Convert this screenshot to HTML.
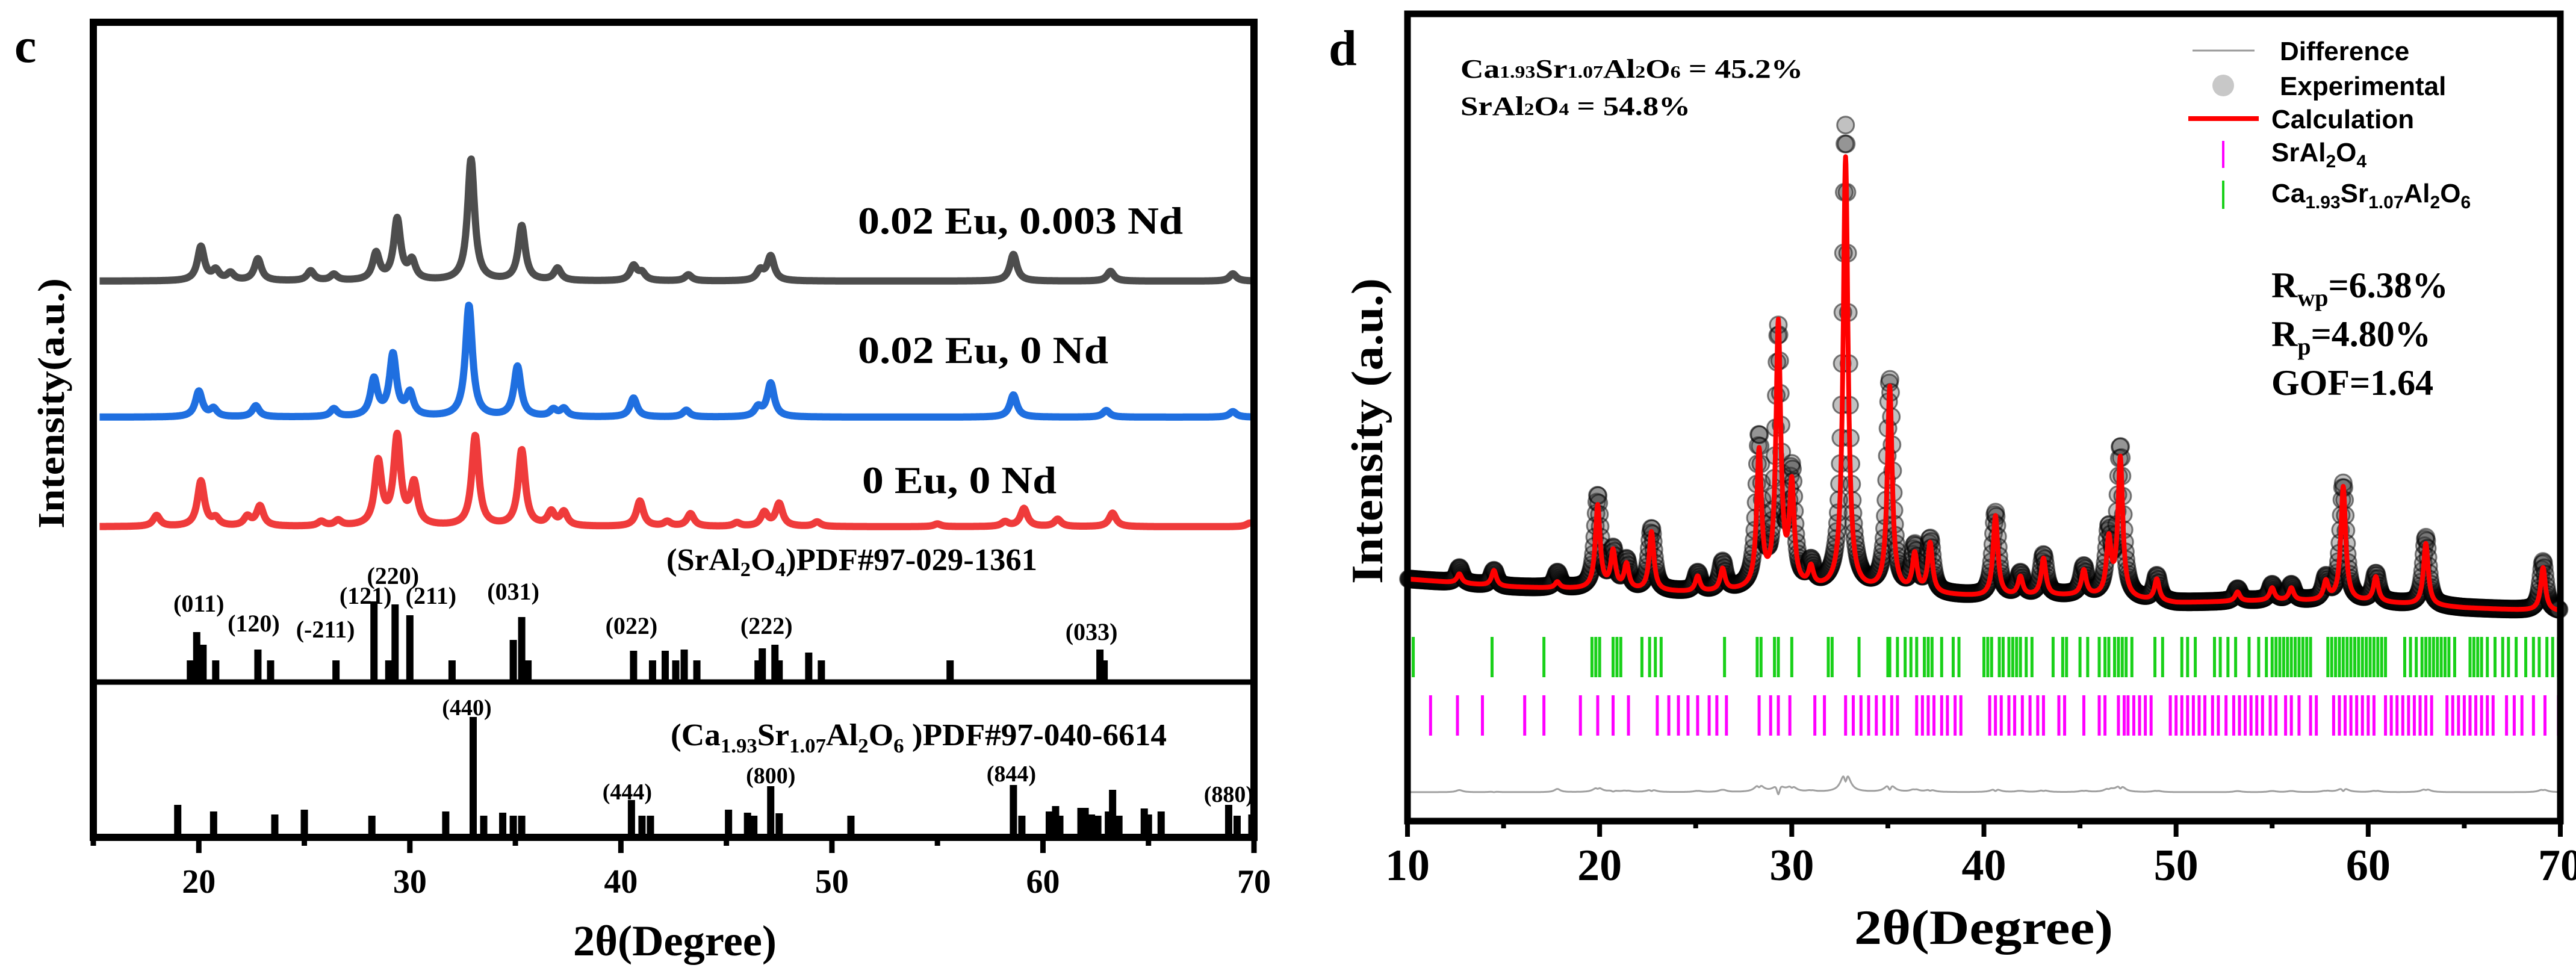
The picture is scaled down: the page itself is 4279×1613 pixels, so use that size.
<!DOCTYPE html>
<html><head><meta charset="utf-8"><style>
html,body{margin:0;padding:0;background:#fff;}
svg{display:block;}
.serif{font-family:"Liberation Serif",serif;font-weight:bold;}
.sans{font-family:"Liberation Sans",sans-serif;font-weight:bold;}
</style></head><body>
<svg id="fig" xmlns="http://www.w3.org/2000/svg" width="4279" height="1613" viewBox="0 0 4279 1613">
<rect width="4279" height="1613" fill="#fff"/>
<g id="left"></g>
<g id="right"></g>
</svg>
<script>
// ===== Panel c data =====
const blackPeaks = [20.1,20.8,21.5,22.8,25.3,26.4,28.4,29.4,30.1,32.9,35.3,37.0,40.6,41.0,43.2,46.6,47.1,58.6,63.2,69.0];
const blackHeights = [0.28,0.08,0.06,0.18,0.08,0.05,0.22,0.5,0.15,1.0,0.45,0.1,0.12,0.06,0.05,0.08,0.2,0.22,0.08,0.06];
const bluePeaks = [20.0,20.7,22.7,26.4,28.3,29.2,30.0,32.8,35.1,36.8,37.3,40.6,43.1,46.5,47.1,58.6,63.0,69.0];
const blueHeights = [0.23,0.07,0.1,0.07,0.33,0.55,0.2,1.0,0.45,0.06,0.07,0.17,0.06,0.08,0.3,0.2,0.06,0.05];
const redPeaks = [18.0,20.1,20.8,22.3,22.9,25.8,26.6,28.5,29.4,30.2,33.1,35.3,36.7,37.3,40.9,42.2,43.3,45.5,46.8,47.5,49.3,55.0,58.2,59.1,60.7,63.3,69.8];
const redHeights = [0.12,0.5,0.08,0.1,0.22,0.05,0.06,0.7,0.97,0.45,1.0,0.84,0.15,0.15,0.28,0.05,0.14,0.04,0.15,0.25,0.05,0.03,0.05,0.2,0.08,0.15,0.04];
const srRefPos = [19.6,19.9,20.2,20.8,22.8,23.4,26.5,28.3,29.0,29.3,30.0,32.0,34.9,35.3,35.6,40.6,41.5,42.1,42.6,43.0,43.6,46.5,46.7,47.3,47.5,48.9,49.5,55.6,62.7,62.9,70.0];
const srRefInt = [36,83,62,36,54,36,36,134,36,129,111,36,70,108,36,52,36,52,36,54,36,36,56,62,36,49,36,36,54,36,36];
const srHkl = ["(011)","(120)","(-211)","(121)","(220)","(211)","(031)","(022)","(222)","(033)"];
const srHklPos = [20.0,22.6,26.0,27.9,29.2,31.0,34.9,40.5,46.9,62.3];
const srHklLift = [131,98,88,144,177,144,151,94,94,84];
const caRefPos = [19.0,20.7,23.6,25.0,28.2,31.7,33.0,33.5,34.4,34.9,35.3,40.5,41.0,41.4,45.1,46.0,46.3,47.1,47.5,50.9,58.6,59.0,60.3,60.6,60.8,61.8,62.0,62.3,62.6,63.1,63.3,63.6,64.8,65.0,65.6,68.8,69.2,69.9];
const caRefInt = [54,43,38,46,36,43,200,36,41,36,36,62,36,36,46,41,36,85,40,36,87,36,43,52,36,49,49,38,36,43,79,36,48,38,43,54,36,38];
const caHkl = ["(440)","(444)","(800)","(844)","(880)"];
const caHklPos = [32.7,40.3,47.1,58.5,68.8];
const caHklLift = [216,76,103,106,72];
const leftTicks = [20,30,40,50,60,70];

// ===== Panel d data =====
const bgDeg = [10,15,20,25,30,35,40,45,50,55,60,65,70];
const bgLevel = [962,975,980,985,980,985,992,990,1002,998,1000,1010,1016];
const fitPeaks = [12.7,14.5,17.8,19.9,20.7,21.4,22.7,25.1,26.4,28.3,29.3,30.0,31.0,32.8,35.1,36.4,37.2,40.6,41.9,43.1,45.2,46.5,47.1,49.0,53.2,55.0,56.0,57.8,58.7,60.4,63.0,69.1];
const calcHeights = [15,25,10,135,60,40,95,25,35,220,425,160,30,700,330,60,80,130,30,60,40,90,225,35,15,20,20,30,185,40,100,70];
const expHeights = [25,25,25,150,60,45,100,30,45,240,410,175,35,750,340,70,85,135,35,65,45,100,240,40,20,25,25,35,190,45,110,80];
const greenTicks = [10.3,14.4,17.1,19.6,19.8,20.0,20.7,20.9,21.1,22.2,22.6,22.9,23.2,26.5,28.2,28.4,29.1,29.3,30.0,31.9,32.1,33.5,35.0,35.1,35.5,35.9,36.2,36.5,36.9,37.1,37.3,37.8,38.4,38.7,40.0,40.2,40.4,40.8,41.0,41.3,41.5,41.7,41.9,42.2,42.5,43.6,44.1,44.3,45.0,45.4,46.0,46.3,46.5,46.8,47.0,47.2,47.4,47.7,48.9,49.3,50.3,50.6,51.0,52.0,52.3,52.7,53.1,53.8,54.3,54.7,55.0,55.2,55.4,55.6,55.8,56.0,56.2,56.4,56.6,56.8,57.0,57.9,58.1,58.3,58.5,58.7,58.9,59.1,59.3,59.5,59.7,59.9,60.1,60.3,60.5,60.7,60.9,61.9,62.2,62.5,62.8,63.0,63.2,63.4,63.6,63.8,64.0,64.2,64.5,65.3,65.5,65.7,65.9,66.2,66.6,67.0,67.3,67.7,68.2,68.6,68.9,69.3,69.6,69.9];
const magentaTicks = [11.2,12.6,13.9,16.1,17.1,19.0,19.9,20.7,21.5,23.0,23.6,24.1,24.6,25.1,25.7,26.1,26.6,28.3,28.9,29.3,29.9,31.2,31.7,32.8,33.2,33.6,34.0,34.4,34.8,35.2,35.5,36.5,36.8,37.1,37.4,37.8,38.1,38.5,38.8,40.3,40.6,40.9,41.3,41.6,42.0,42.4,42.8,43.1,43.9,44.2,45.2,46.0,46.3,47.0,47.3,47.5,47.8,48.1,48.4,48.7,49.7,50.0,50.3,50.6,50.9,51.2,51.5,51.9,52.2,52.6,53.0,53.3,53.6,53.9,54.2,54.5,54.9,55.2,55.7,56.0,56.4,57.0,57.3,58.2,58.5,58.8,59.1,59.4,59.7,60.0,60.3,60.9,61.2,61.5,61.8,62.1,62.4,62.7,63.0,63.3,64.1,64.4,64.7,65.0,65.3,65.6,65.9,66.2,66.5,67.2,67.6,68.0,68.6,69.2,69.9];
const rightTicks = [10,20,30,40,50,60,70];

const NS = "http://www.w3.org/2000/svg";
function mk(tag, attrs, parent, text){
  const e = document.createElementNS(NS, tag);
  for (const k in attrs) e.setAttribute(k, attrs[k]);
  if (text !== undefined) e.textContent = text;
  parent.appendChild(e);
  return e;
}
function lor(x, pos, hts, w){
  let s = 0;
  for (let i=0;i<pos.length;i++){ const d=(x-pos[i])/w; s += hts[i]/(1+d*d); }
  return s;
}
function lbl(parent, x, y, txt, size, name, anchor, tl){
  const t = mk('text',{x:x,y:y,'font-size':size,'class':'serif','text-anchor':anchor||'start',fill:'#000'},parent,txt);
  if (tl){ t.setAttribute('textLength',tl); t.setAttribute('lengthAdjust','spacingAndGlyphs'); }
  
  
  return t;
}

// ===== Panel c =====
const L = document.getElementById('left');
const lx0=155, lx1=2083, ly0=37, ly1=1391, ldiv=1133;
const lX = d => lx0 + (d-15)/(70-15)*(lx1-lx0);

function drawPattern(pos, hts, base, amp, color, name){
  let pts=[];
  for (let d=15.3; d<=69.9; d+=0.03){
    const y = base - amp*lor(d,pos,hts,0.2);
    pts.push(lX(d).toFixed(1)+","+y.toFixed(1));
  }
  const p = mk('polyline',{points:pts.join(' '),fill:'none',stroke:color,'stroke-width':12,'stroke-linejoin':'round'},L);
  
  
}
drawPattern(redPeaks, redHeights, 875, 150, '#ef3b3b', 'pattern-0eu-0nd');
drawPattern(bluePeaks, blueHeights, 693, 185, '#1f6fe0', 'pattern-002eu-0nd');
drawPattern(blackPeaks, blackHeights, 467, 202, '#4d4d4d', 'pattern-002eu-0003nd');

lbl(L,1425,388,'0.02 Eu, 0.003 Nd',64,'label-002eu-0003nd','start',540);
lbl(L,1425,603,'0.02 Eu, 0 Nd',64,'label-002eu-0nd','start',416);
lbl(L,1432,819,'0 Eu, 0 Nd',64,'label-0eu-0nd','start',323);

for (let i=0;i<srRefPos.length;i++){
  const r = mk('rect',{x:lX(srRefPos[i])-6,y:ldiv-srRefInt[i],width:12,height:srRefInt[i],fill:'#000'},L);
  
  
}
for (let i=0;i<srHkl.length;i++){
  lbl(L,lX(srHklPos[i]),ldiv-srHklLift[i]+14,srHkl[i],40,'sr-hkl-label','middle');
}
const st = mk('text',{x:1107,y:947,'font-size':52,'class':'serif',fill:'#000',textLength:616,lengthAdjust:'spacingAndGlyphs'},L);


st.innerHTML = '(SrAl<tspan font-size="34" dy="10">2</tspan><tspan dy="-10">O</tspan><tspan font-size="34" dy="10">4</tspan><tspan dy="-10">)PDF#97-029-1361</tspan>';

for (let i=0;i<caRefPos.length;i++){
  const r = mk('rect',{x:lX(caRefPos[i])-6,y:ly1-caRefInt[i],width:12,height:caRefInt[i],fill:'#000'},L);
  
  
}
for (let i=0;i<caHkl.length;i++){
  lbl(L,lX(caHklPos[i]),ly1-caHklLift[i]+13,caHkl[i],38,'ca-hkl-label','middle');
}
const ct = mk('text',{x:1114,y:1238,'font-size':52,'class':'serif',fill:'#000',textLength:824,lengthAdjust:'spacingAndGlyphs'},L);


ct.innerHTML = '(Ca<tspan font-size="34" dy="12">1.93</tspan><tspan dy="-12">Sr</tspan><tspan font-size="34" dy="12">1.07</tspan><tspan dy="-12">Al</tspan><tspan font-size="34" dy="12">2</tspan><tspan dy="-12">O</tspan><tspan font-size="34" dy="12">6</tspan><tspan dy="-12"> )PDF#97-040-6614</tspan>';

let f = mk('rect',{x:lx0,y:ly0,width:lx1-lx0,height:ly1-ly0,fill:'none',stroke:'#000','stroke-width':12},L);
 
let dv = mk('line',{x1:lx0,x2:lx1,y1:ldiv,y2:ldiv,stroke:'#000','stroke-width':9},L);
 
for (let d=15; d<=70; d+=5){
  const t = mk('line',{x1:lX(d),x2:lX(d),y1:ly1,y2:ly1+(d%10?14:26),stroke:'#000','stroke-width':9},L);
   
}
leftTicks.forEach(v=>{ lbl(L,lX(v),1483,String(v),56,'x-tick-label','middle'); });
lbl(L,1121,1587,'2θ(Degree)',72,'x-axis-title','middle',338);
const ly = lbl(L,0,0,'Intensity(a.u.)',62,'y-axis-title','middle',416);
ly.setAttribute('transform','translate(106,670) rotate(-90)');
lbl(L,24,103,'c',82,'panel-label-c','start');

// ===== Panel d =====
const R = document.getElementById('right');
const rx0=2338, rx1=4253, ry0=23, ry1=1364;
const rX = d => rx0 + (d-10)/60*(rx1-rx0);
const pxy = 1.027;
function bgAt(d){
  for (let i=0;i<bgDeg.length-1;i++){
    if (d<=bgDeg[i+1]){ const t=(d-bgDeg[i])/(bgDeg[i+1]-bgDeg[i]); return bgLevel[i]+(bgLevel[i+1]-bgLevel[i])*t; }
  }
  return bgLevel[bgLevel.length-1];
}
const expG = mk('g',{},R);
 
for (let d=10.05; d<=69.95; d+=0.035){
  const y = bgAt(d) - pxy*lor(d,fitPeaks,expHeights,0.17);
  mk('circle',{cx:rX(d).toFixed(1),cy:y.toFixed(1),r:14,fill:'#333','fill-opacity':0.3,stroke:'#000','stroke-opacity':0.5,'stroke-width':3},expG);
}
let cp=[], dp=[];
for (let d=10.02; d<=69.98; d+=0.02){
  const c = lor(d,fitPeaks,calcHeights,0.15);
  const e = lor(d,fitPeaks,expHeights,0.17);
  cp.push(rX(d).toFixed(1)+","+(bgAt(d)-pxy*c).toFixed(1));
  dp.push(rX(d).toFixed(1)+","+(1316-0.35*(e-c)).toFixed(1));
}
let cl = mk('polyline',{points:cp.join(' '),fill:'none',stroke:'#ff0000','stroke-width':8,'stroke-linejoin':'round'},R);
 
let dl = mk('polyline',{points:dp.join(' '),fill:'none',stroke:'#a0a0a0','stroke-width':3},R);
 
greenTicks.forEach(v=>{
  const t = mk('line',{x1:rX(v),x2:rX(v),y1:1058,y2:1125,stroke:'#19d019','stroke-width':5},R);
   
});
magentaTicks.forEach(v=>{
  const t = mk('line',{x1:rX(v),x2:rX(v),y1:1155,y2:1222,stroke:'#ff00ff','stroke-width':5},R);
   
});
let f2 = mk('rect',{x:rx0,y:ry0,width:rx1-rx0,height:ry1-ry0,fill:'none',stroke:'#000','stroke-width':11},R);
 
for (let d=10; d<=70; d+=5){
  const t = mk('line',{x1:rX(d),x2:rX(d),y1:ry1,y2:ry1+(d%10?12:26),stroke:'#000','stroke-width':8},R);
   
}
rightTicks.forEach(v=>{ lbl(R,rX(v),1462,String(v),74,'x-tick-label','middle'); });
lbl(R,3295,1568,'2θ(Degree)',82,'x-axis-title','middle',430);
const ry = lbl(R,0,0,'Intensity (a.u.)',74,'y-axis-title','middle',508);
ry.setAttribute('transform','translate(2296,716) rotate(-90)');
lbl(R,2207,108,'d',84,'panel-label-d','start');
const p1 = mk('text',{x:2426,y:129,'font-size':44,'class':'serif',fill:'#000',textLength:569,lengthAdjust:'spacingAndGlyphs'},R);
 
p1.innerHTML='Ca<tspan font-size="28">1.93</tspan>Sr<tspan font-size="28">1.07</tspan>Al<tspan font-size="28">2</tspan>O<tspan font-size="28">6</tspan> = 45.2%';
const p2 = mk('text',{x:2426,y:191,'font-size':44,'class':'serif',fill:'#000',textLength:382,lengthAdjust:'spacingAndGlyphs'},R);
 
p2.innerHTML='SrAl<tspan font-size="28">2</tspan>O<tspan font-size="28">4</tspan> = 54.8%';
const lg = mk('g',{},R);
 
mk('line',{x1:3642,x2:3745,y1:84,y2:84,stroke:'#999','stroke-width':3},lg);
mk('circle',{cx:3693,cy:142,r:18,fill:'#c8c8c8'},lg);
mk('line',{x1:3635,x2:3752,y1:197,y2:197,stroke:'#ff0000','stroke-width':8},lg);
mk('line',{x1:3693,x2:3693,y1:234,y2:279,stroke:'#ff00ff','stroke-width':4},lg);
mk('line',{x1:3693,x2:3693,y1:300,y2:347,stroke:'#19d019','stroke-width':4},lg);
function legText(x,y,html,name){
  const t = mk('text',{x:x,y:y,'font-size':44,'class':'sans',fill:'#000'},lg);
  t.innerHTML = html;
  
  
}
legText(3787,100,'Difference','legend-difference');
legText(3787,158,'Experimental','legend-experimental');
legText(3773,213,'Calculation','legend-calculation');
legText(3773,268,'SrAl<tspan font-size="30" dy="10">2</tspan><tspan dy="-10">O</tspan><tspan font-size="30" dy="10">4</tspan>','legend-sral2o4');
legText(3773,336,'Ca<tspan font-size="30" dy="10">1.93</tspan><tspan dy="-10">Sr</tspan><tspan font-size="30" dy="10">1.07</tspan><tspan dy="-10">Al</tspan><tspan font-size="30" dy="10">2</tspan><tspan dy="-10">O</tspan><tspan font-size="30" dy="10">6</tspan>','legend-ca-phase');
function stat(y,html,name){
  const t = mk('text',{x:3773,y:y,'font-size':60,'class':'serif',fill:'#000'},R);
  t.innerHTML = html;
  
  
}
stat(494,'R<tspan font-size="40" dy="14">wp</tspan><tspan dy="-14">=6.38%</tspan>','stat-rwp');
stat(575,'R<tspan font-size="40" dy="14">p</tspan><tspan dy="-14">=4.80%</tspan>','stat-rp');
stat(656,'GOF=1.64','stat-gof');
</script>
</body></html>
